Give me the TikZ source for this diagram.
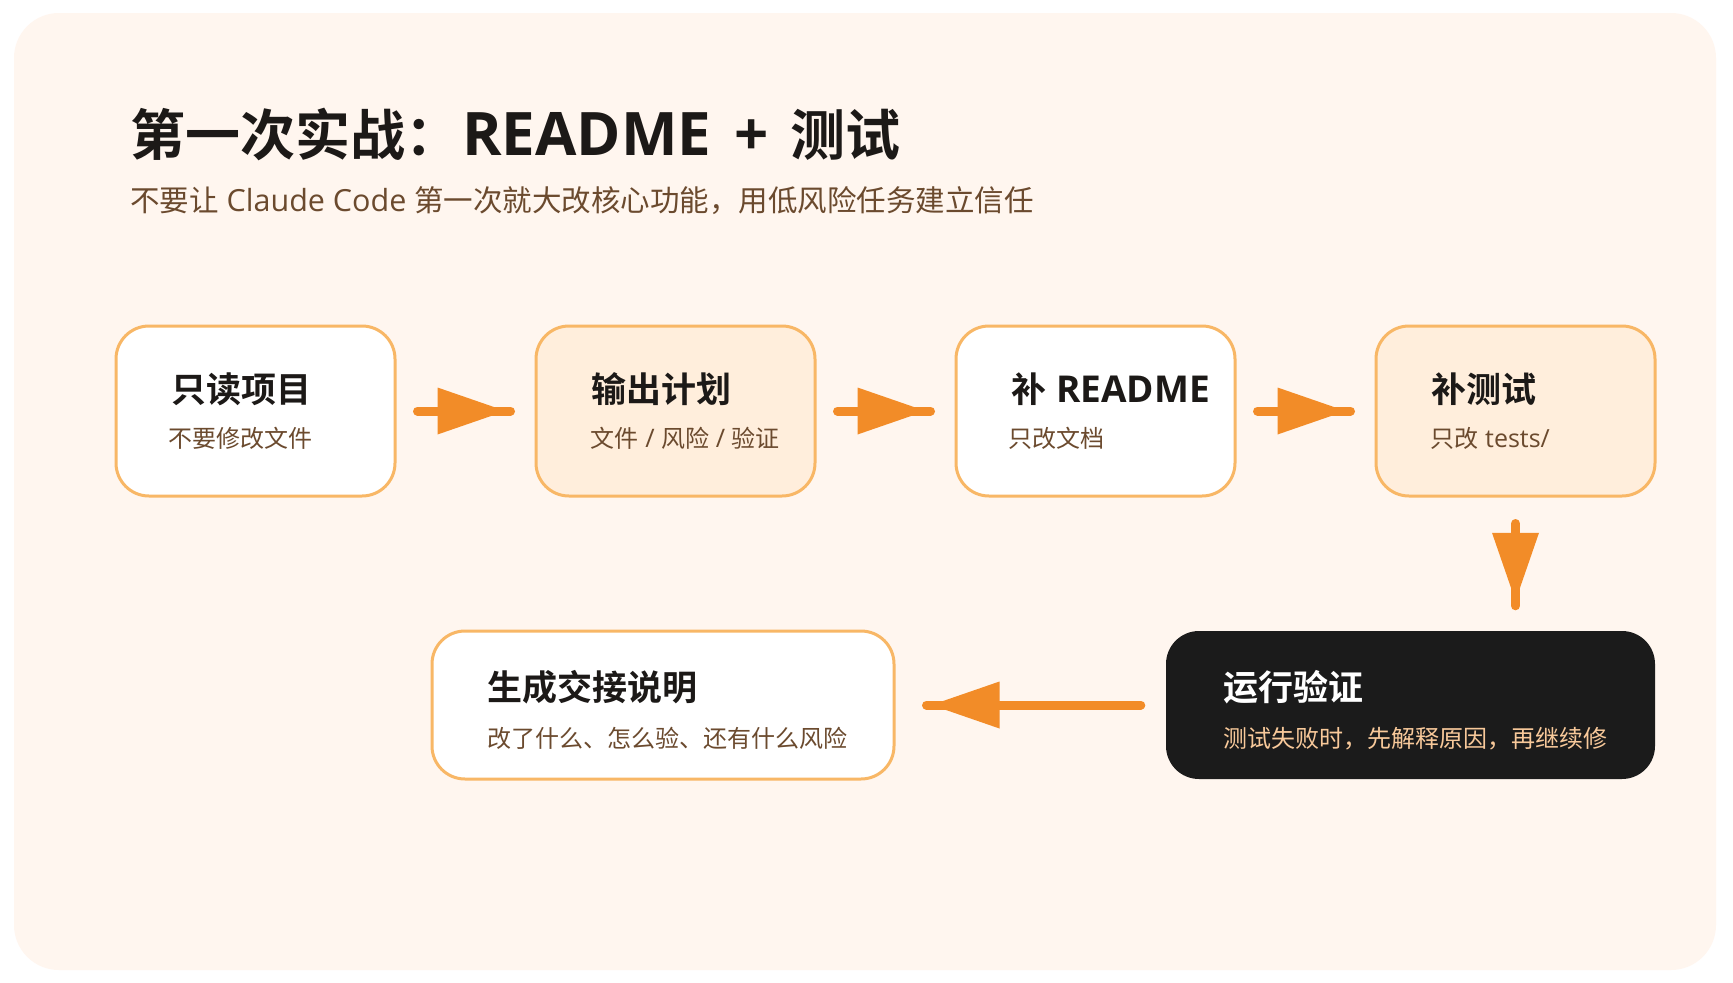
\documentclass[tikz,border=0pt]{standalone}
\usepackage{fontspec}
\setmainfont{Noto Sans CJK SC}[BoldFont={Noto Sans CJK SC Bold}]
\newfontfamily\latf{Open Sans}
\usetikzlibrary{decorations.markings}
\definecolor{pagebg}{HTML}{FFF6EF}
\definecolor{boxline}{HTML}{F8B766}
\definecolor{boxalt}{HTML}{FFEEDC}
\definecolor{arrc}{HTML}{F28C28}
\definecolor{ink}{HTML}{1C1917}
\definecolor{brown}{HTML}{6B4A2E}
\definecolor{darkbox}{HTML}{1B1B1B}
\definecolor{lightsub}{HTML}{F8C99A}
\tikzset{
  box/.style={draw=boxline, line width=3pt, rounded corners=33pt, minimum width=279pt, minimum height=170pt, inner sep=0pt},
  lowbox/.style={rounded corners=33pt, minimum height=148pt, inner sep=0pt},
  btitle/.style={anchor=base west, inner sep=0pt, font=\fontsize{35}{40}\selectfont\bfseries, text=ink},
  bsub/.style={anchor=base west, inner sep=0pt, font=\fontsize{24}{28}\selectfont, text=brown},
  arrline/.style={draw=arrc, line width=9pt, line cap=round,
    postaction={decorate, decoration={markings, mark=at position -5pt with {\fill[arrc] (0,0) -- (-68,23.5) -- (-68,-23.5) -- cycle;}}}}
}
\begin{document}
\begin{tikzpicture}[x=1pt,y=-1pt]
\useasboundingbox (0,0) rectangle (1733,983);
\fill[white] (0,0) rectangle (1733,983);
\fill[pagebg, rounded corners=45pt] (14,13) rectangle (1716,970);
% heading
\node[anchor=base west, inner sep=0pt, font=\fontsize{55}{60}\selectfont\bfseries, text=ink] (title) at (130,155) {第一次实战：{\latf\bfseries\fontsize{60}{64}\selectfont\hspace{2pt}README\hspace{23pt}+\hspace{22pt}}测试};
\node[anchor=base west, inner sep=0pt, font=\fontsize{29.5}{34}\selectfont, text=brown] (subtitle) at (130,211.5) {不要让{\latf\fontsize{30.5}{34}\selectfont\ Claude Code }第一次就大改核心功能，用低风险任务建立信任};
% top row
\node[box, fill=white] (b1) at (255.5,411) {};
\node[box, fill=boxalt] (b2) at (675.5,411) {};
\node[box, fill=white] (b3) at (1095.5,411) {};
\node[box, fill=boxalt] (b4) at (1515.5,411) {};
\node[btitle] (t1) at ([xshift=57pt]b1.west |- 0,402) {只读项目};
\node[bsub] (s1) at ([xshift=54pt]b1.west |- 0,447) {不要修改文件};
\node[btitle] (t2) at ([xshift=57pt]b2.west |- 0,402) {输出计划};
\node[bsub] (s2) at ([xshift=56pt]b2.west |- 0,447) {文件{\latf\fontsize{25.5}{28}\selectfont\ / }风险{\latf\fontsize{25.5}{28}\selectfont\ / }验证};
\node[btitle] (t3) at ([xshift=57pt]b3.west |- 0,402) {补{\latf\bfseries\fontsize{37}{40}\selectfont\ README}};
\node[bsub] (s3) at ([xshift=54pt]b3.west |- 0,447) {只改文档};
\node[btitle] (t4) at ([xshift=57pt]b4.west |- 0,402) {补测试};
\node[bsub] (s4) at ([xshift=56pt]b4.west |- 0,447) {只改{\latf\fontsize{25}{28}\selectfont\ tests/}};
% bottom row
\node[box, lowbox, minimum width=462pt, fill=white] (b5) at (663,705) {};
\node[lowbox, minimum width=489pt, fill=darkbox] (b6) at (1410.5,705) {};
\node[btitle] (t5) at ([xshift=57pt]b5.west |- 0,700) {生成交接说明};
\node[bsub] (s5) at ([xshift=57pt]b5.west |- 0,747) {改了什么、怎么验、还有什么风险};
\node[btitle, text=white] (t6) at ([xshift=57pt]b6.west |- 0,700) {运行验证};
\node[bsub, text=lightsub] (s6) at ([xshift=57pt]b6.west |- 0,747) {测试失败时，先解释原因，再继续修};
% connectors
\draw[arrline] ([xshift=21pt]b1.east) -- ([xshift=-24pt]b2.west);
\draw[arrline] ([xshift=21pt]b2.east) -- ([xshift=-24pt]b3.west);
\draw[arrline] ([xshift=21pt]b3.east) -- ([xshift=-24pt]b4.west);
\draw[arrline] ([yshift=-26pt]b4.south) -- ([yshift=25pt]b4.south |- b6.north);
\draw[arrline] ([xshift=-25pt]b6.west) -- ([xshift=31pt]b5.east);
\end{tikzpicture}
\end{document}
